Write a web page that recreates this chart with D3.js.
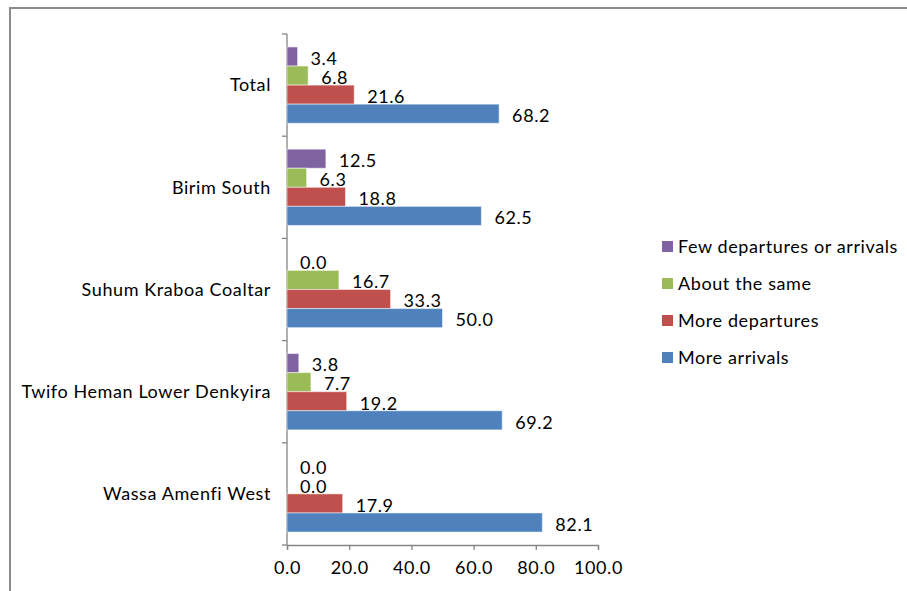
<!DOCTYPE html>
<html>
<head>
<meta charset="utf-8">
<script src="https://cdn.jsdelivr.net/npm/d3@7"></script>
<style>
  body { margin: 0; background: #fff; }
  svg { display: block; font-family: Lato, "Open Sans", sans-serif; }
  svg text { letter-spacing: 0.6px; }
</style>
</head>
<body>
<svg id="chart" width="907" height="591"></svg>
<script>
// categories, top to bottom
const categories = ["Total", "Birim South", "Suhum Kraboa Coaltar", "Twifo Heman Lower Denkyira", "Wassa Amenfi West"];
// series, in the order they sit inside each group (top to bottom)
const seriesNames = ["Few departures or arrivals", "About the same", "More departures", "More arrivals"];
const seriesColors = ["#8064A2", "#9BBB59", "#C0504D", "#4F81BD"];
const fewDepArr = [3.4, 12.5, 0.0, 3.8, 0.0];
const aboutSame = [6.8, 6.3, 16.7, 7.7, 0.0];
const moreDepartures = [21.6, 18.8, 33.3, 19.2, 17.9];
const moreArrivals = [68.2, 62.5, 50.0, 69.2, 82.1];
const xTicks = [0, 20, 40, 60, 80, 100];

const seriesValues = [fewDepArr, aboutSame, moreDepartures, moreArrivals];
const fs = 18;

const svg = d3.select("#chart");

// outer frame (only top and left edges visible in the crop)
svg.append("path")
  .attr("d", "M10,591 L10,8 L907,8")
  .attr("fill", "none")
  .attr("stroke", "#8c8c8c")
  .attr("stroke-width", 2);

const plotL = 287, plotR = 598, plotT = 34, plotB = 545;

const x = d3.scaleLinear().domain([0, 100]).range([plotL, plotR]);
const y = d3.scaleBand().domain(categories).range([plotT, plotB]);
const ySub = d3.scaleBand().domain(seriesNames).range([0, y.bandwidth()]).paddingOuter(0.68).paddingInner(0);

// x axis
const xAxis = svg.append("g")
  .attr("transform", `translate(0,${plotB})`)
  .call(d3.axisBottom(x).tickValues(xTicks).tickFormat(d3.format(".1f")).tickSize(5).tickPadding(11));
xAxis.select(".domain").attr("stroke", "#868686").attr("stroke-width", 1.3);
xAxis.selectAll(".tick line").attr("stroke", "#868686").attr("stroke-width", 1.3);
xAxis.selectAll(".tick text").attr("font-size", fs).attr("fill", "#000").attr("font-family", "Lato");

// y axis with tick marks at category boundaries
const yAxis = svg.append("g").attr("transform", `translate(${plotL},0)`);
yAxis.append("line")
  .attr("y1", plotT).attr("y2", plotB)
  .attr("stroke", "#868686").attr("stroke-width", 1.3);
const bounds = categories.map(c => y(c)).concat([plotB]);
yAxis.selectAll("line.tk").data(bounds).enter().append("line")
  .attr("class", "tk")
  .attr("x1", -5).attr("x2", 0)
  .attr("y1", d => d).attr("y2", d => d)
  .attr("stroke", "#868686").attr("stroke-width", 1.3);

// category labels
svg.selectAll("text.cat").data(categories).enter().append("text")
  .attr("class", "cat")
  .attr("x", 271)
  .attr("y", d => y(d) + y.bandwidth() / 2)
  .attr("dy", "0.35em")
  .attr("text-anchor", "end")
  .attr("font-size", fs)
  .text(d => d);

// bars + value labels
seriesNames.forEach((s, si) => {
  const g = svg.append("g");
  const vals = seriesValues[si];
  g.selectAll("rect").data(vals).enter().append("rect")
    .attr("x", x(0))
    .attr("y", (d, i) => y(categories[i]) + ySub(s))
    .attr("width", d => x(d) - x(0))
    .attr("height", ySub.bandwidth())
    .attr("fill", seriesColors[si])
    .attr("stroke", d => d > 0 ? "rgba(255,255,255,0.5)" : "none")
    .attr("stroke-width", 1);
  g.selectAll("text").data(vals).enter().append("text")
    .attr("x", d => x(d) + 13)
    .attr("y", (d, i) => y(categories[i]) + ySub(s) + ySub.bandwidth() / 2 + 2)
    .attr("dy", "0.35em")
    .attr("font-size", fs)
    .text(d => d3.format(".1f")(d));
});

// legend
const legend = svg.append("g");
seriesNames.forEach((s, i) => {
  const ly = 247 + i * 37;
  legend.append("rect")
    .attr("x", 662).attr("y", ly - 6)
    .attr("width", 11).attr("height", 11)
    .attr("fill", seriesColors[i]);
  legend.append("text")
    .attr("x", 678).attr("y", ly)
    .attr("dy", "0.35em")
    .attr("font-size", fs)
    .text(s);
});
</script>
</body>
</html>
